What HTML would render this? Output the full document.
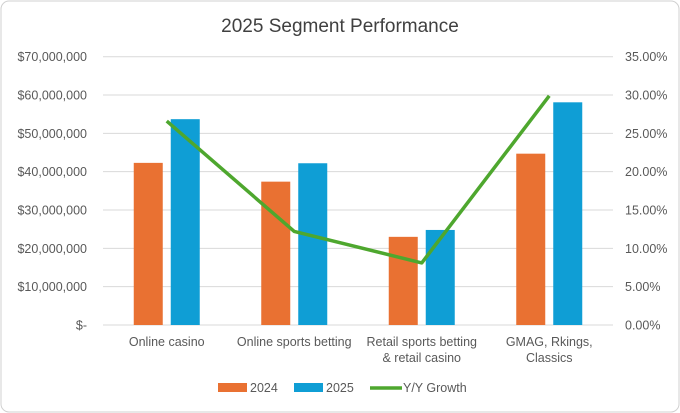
<!DOCTYPE html>
<html><head><meta charset="utf-8"><style>
html,body{margin:0;padding:0;background:#fff}
svg{display:block;font-family:"Liberation Sans",sans-serif}
</style></head><body>
<svg width="680" height="413">
<rect x="1" y="1" width="678" height="411" rx="8" fill="#fff" stroke="#d0d0d0"/>
<text x="340" y="32" text-anchor="middle" font-size="19" fill="#404040">2025 Segment Performance</text>
<g id="grid"></g><g id="bars"></g><g id="line"></g><g id="labels"></g>
<g>
<rect x="218" y="383" width="29" height="9" fill="#E97132"/>
<text x="250" y="392" font-size="12.5" fill="#595959">2024</text>
<rect x="294" y="383" width="29" height="9" fill="#0F9ED5"/>
<text x="326" y="392" font-size="12.5" fill="#595959">2025</text>
<line x1="370" y1="388" x2="402" y2="388" stroke="#4EA72E" stroke-width="3.5"/>
<text x="403" y="392" font-size="12.5" fill="#595959">Y/Y Growth</text>
</g>
</svg>
<script>
const categories=[["Online casino"],["Online sports betting"],["Retail sports betting","& retail casino"],["GMAG, Rkings,","Classics"]];
const values2024=[42300000,37400000,23000000,44700000];
const values2025=[53700000,42200000,24800000,58100000];
const growth=[0.266,0.122,0.081,0.299];
const leftTicks=["$-","$10,000,000","$20,000,000","$30,000,000","$40,000,000","$50,000,000","$60,000,000","$70,000,000"];
const rightTicks=["0.00%","5.00%","10.00%","15.00%","20.00%","25.00%","30.00%","35.00%"];
const NS="http://www.w3.org/2000/svg";
const X0=103,X1=613,Y0=325,Y1=56.7;
const yL=v=>Y0-(v/70000000)*(Y0-Y1);
const yR=v=>Y0-(v/0.35)*(Y0-Y1);
const xC=i=>X0+(X1-X0)/categories.length*(i+0.5);
function mk(tag,attrs,parent){const e=document.createElementNS(NS,tag);for(const k in attrs)e.setAttribute(k,attrs[k]);document.getElementById(parent).appendChild(e);return e;}
leftTicks.forEach((t,i)=>{
  const y=Y0-i*(Y0-Y1)/(leftTicks.length-1);
  const g=mk("line",{x1:X0,x2:X1,y1:y,y2:y,stroke:"#d9d9d9","stroke-width":1},"grid");
  
  
  const l=mk("text",{x:87,y:y+4.5,"text-anchor":"end","font-size":"12.5",fill:"#595959"},"labels");
  l.textContent=t;
  
  
  const r=mk("text",{x:625,y:y+4.5,"font-size":"12.5",fill:"#595959"},"labels");
  r.textContent=rightTicks[i];
  
  
});
categories.forEach((c,i)=>{
  const cx=xC(i);
  const b1=mk("rect",{x:cx-33,y:yL(values2024[i]),width:29,height:Y0-yL(values2024[i]),fill:"#E97132"},"bars");
  
  
  const b2=mk("rect",{x:cx+4,y:yL(values2025[i]),width:29,height:Y0-yL(values2025[i]),fill:"#0F9ED5"},"bars");
  
  
  c.forEach((line,j)=>{
    const t=mk("text",{x:cx,y:346+j*16,"text-anchor":"middle","font-size":"12.5",fill:"#595959"},"labels");
    t.textContent=line;
    
    
  });
});
const pts=growth.map((g,i)=>xC(i)+","+yR(g)).join(" ");
const pl=mk("polyline",{points:pts,fill:"none",stroke:"#4EA72E","stroke-width":3.5,"stroke-linejoin":"round"},"line");


</script>
</body></html>
